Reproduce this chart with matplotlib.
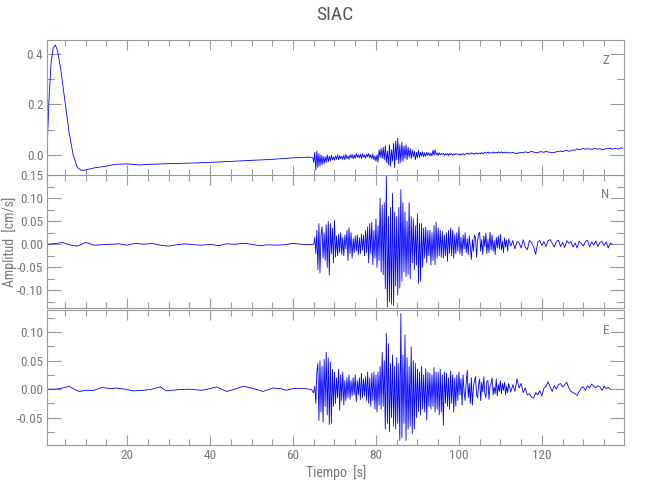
"""
SIAC three-component velocity record (Z, N, E).
"""
import numpy as np
import matplotlib
matplotlib.use("Agg")
import matplotlib.pyplot as plt
from matplotlib import font_manager
from matplotlib.ticker import MultipleLocator, FormatStrFormatter

# narrow face if one is installed, else condensed DejaVu, else plain DejaVu
_fonts = font_manager.fontManager.ttflist
_names = {f.name for f in _fonts}
_narrow = [n for n in ("Liberation Sans Narrow", "Arial Narrow", "Roboto Condensed",
                       "Open Sans Condensed") if n in _names]
if _narrow:
    plt.rcParams['font.family'] = [_narrow[0], 'DejaVu Sans']
else:
    plt.rcParams['font.family'] = ['DejaVu Sans']
    if any(f.name == "DejaVu Sans" and "condensed" in str(f.stretch) for f in _fonts):
        plt.rcParams['font.stretch'] = 'condensed'

GREY = "#777777"
AXC = "#999999"
TRACE = "#0000ff"

# ---- Z component (values in 1e-3 cm/s) --------------------------------
z_quiet_t = [0.8, 1.2, 1.7, 2.2, 2.7, 3.2, 4.0, 5.0, 6.0, 7.0, 8.0, 9.0, 10, 12,
             15, 17, 20, 23, 25, 28, 30, 35, 40, 45, 50, 55, 60, 62, 64, 64.8]
z_quiet = [60, 230, 370, 425, 435, 415, 340, 215, 90, 0, -50, -62, -60, -52,
           -45, -38, -36, -40, -38, -36, -35, -33, -30, -26, -22, -18, -12, -11, -9, -12]
z_strong = [  # 65.00 .. 111.75, 0.25 s
    -30, 10, -60, 15,  -50, 5, -45, 0,  -40, -5, -35, -8,  -30, 0, -28, -5,
    -25, -2, -20, -8,  -22, -5, -18, 0,  -20, -3, -15, -6,  -18, -2, -20, 2,
    -15, -5, -18, 0,  -12, 2, -16, -2,  -14, 5, -10, 0,  -12, 3, -15, 5,
    -10, 0, -14, 2,  -8, 5, -12, 0,  -15, 2, -20, -5,  -25, 0, -28, 20,
    -10, 25, -15, 30,  -20, 35, -30, 15,  -40, 40, -45, 20,  -25, 45, -50, 55,
    -20, 66, -35, 40,  -30, 50, -25, 35,  -15, 40, -20, 30,  -10, 25, -15, 20,
    -8, 15, -20, 10,  -12, 18, -10, 10,  -5, 12, -8, 8,  -6, 10, -2, 8,
    -4, 6, -5, 18,  -2, 20, 0, 8,  -3, 8, 0, 5,  2, 6, -2, 4,
    0, 5, -3, 6,  1, 4, -1, 3,  0, 5, 2, 4,
    0, 4, -2, 3,  5, -1, 2, 6,  3, 7, 2, 5,  8, 4, 6, 2,
    5, 8, 3, 6,  7, 4, 9, 5,  6, 10, 7, 8,  11, 6, 9, 7,
    8, 11, 6, 9,  10, 7, 12, 8,  9, 12, 7, 10,  8, 11, 9, 7]
z_coda = [  # 112.0 .. 139.5, 0.5 s
    9, 7, 10, 6, 5, 8, 10, 8, 12, 9, 10, 14, 11, 8, 9, 12,
    12, 10, 14, 11, 10, 8, 9, 12, 14, 15, 12, 16, 18, 14, 16, 20, 18, 24, 20, 22,
    26, 22, 24, 23, 22, 24, 25, 22, 24, 20, 22, 25, 24, 26, 22, 25, 24, 23, 28, 26]

# ---- N component ------------------------------------------------------
n_quiet_t = [0.8, 3, 4.5, 6, 8, 10, 12, 14, 16, 18, 20, 22, 24, 26, 28, 30, 32,
             34, 36, 38, 40, 42, 44, 46, 48, 50, 52, 54, 56, 58, 60, 62, 64, 64.8]
n_quiet = [0, 2, 4, -1, -4, 4, -2, -1, 0, 1, -2, 2, 0, 2, -2, -4, -1,
           1, -1, -2, 0, -3, 1, 0, 2, 0, -3, -1, -2, -1, 2, 0, -1, 0]
n_strong = [
    0, 15, -20, 30,  -55, 45, -62, 20,  38, -30, 25, -35,  42, -50, 50, -66,
    45, -20, 35, -40,  52, -28, 18, -25,  22, -18, 25, -22,  15, -25, 20, -10,
    30, -35, 36, -20,  25, -30, 12, -18,  18, -15, 20, -22,  14, -20, 22, -12,
    20, -25, 30, -18,  38, -40, 45, -20,  48, -44, 30, -30,  55, -50, 40, -35,
    100, -60, 85, -66,  90, -96, 147, -136,  60, -125, 80, -130,  110, -133, 70, -90,
    60, -110, 80, -95,  118, -80, 90, -60,  70, -70, 50, -65,  90, -75, 60, -40,
    55, -55, 40, -45,  66, -85, 45, -80,  45, -50, 35, -30,  37, -40, 30, -25,
    30, -45, 25, -35,  40, -44, 48, -30,  35, -25, 30, -28,  28, -30, 20, -25,
    25, -37, 30, -20,  35, -25, 30, -30,  22, -20, 25, -15,
    37, -20, 15, -25,  20, -10, 25, -18,  12, -22, 18, -8,  -33, 10, -15, 20,
    15, -28, 8, 22,  26, -15, 10, -22,  18, -5, 24, -20,  10, -18, 26, -12,
    20, -15, 8, -22,  15, -8, 18, -10,  22, -12, 6, -18,  14, -6, 10, -15]
n_coda = [  # 112.0 .. 137.0, 0.5 s
    12, -4, 8, -10, 6, 3, -8, 10, -6, -12, 8, 4, -6, -22, 5, 8, -3, 6, -5, 8,
    10, 2, -6, 6, 9, -5, 4, -7, 8, 2, 6, -6, 3, -8, 7, 2, -4, 6, 9, -6,
    5, -2, 7, -5, 4, 6, -3, 5, -8, 2, 0]

# ---- E component ------------------------------------------------------
e_quiet_t = [0.8, 3, 5, 6, 7.5, 8.5, 10, 12, 14, 16, 17.5, 19.5, 21.5, 24, 26, 28,
             29.5, 32, 35, 38, 40, 41.6, 44, 46, 48, 50, 52.8, 55.2, 57, 58.4, 60,
             63, 64.5, 64.9]
e_quiet = [0, 0, 3, 5, -1, -4, -2, -2, 3, 1, 2, 0, -3, -2, 0, 4,
           -3, -1, 0, -2, 1, 4, -4, 0, 5, 2, -4, 2, 1, -2, 1,
           1, -1, -6]
e_strong = [
    -5, 5, -25, 30,  45, -55, 50, -40,  40, -58, 52, -30,  65, -45, 55, -62,
    48, -60, 35, -30,  30, -25, 20, -15,  35, -37, 25, -20,  30, -28, 15, -20,
    20, -15, 25, -18,  15, -12, 20, -10,  25, -22, 15, -10,  20, -18, 28, -15,
    18, -12, 22, -20,  30, -25, 20, -30,  28, -20, 30, -35,  25, -40, 30, -28,
    40, -35, 65, -30,  50, -70, 98, -60,  80, -75, 45, -50,  60, -65, 40, -70,
    55, -60, 45, -90,  133, -85, 60, -60,  95, -90, 55, -70,  40, -65, 74, -78,
    50, -70, 45, -50,  35, -40, 30, -45,  40, -35, 25, -40,  36, -54, 30, -30,
    28, -35, 25, -30,  38, -40, 30, -35,  30, -45, 35, -40,  25, -63, 30, -25,
    28, -30, 20, -35,  32, -25, 25, -40,  20, -30, 25, -20,
    30, -10, 18, -28,  25, -5, -20, 12,  33, -15, 10, -25,  20, -28, 5, 15,
    22, -10, -15, 8,  18, -20, 12, -5,  22, -8, -15, 14,  15, -18, 6, 10,
    20, -10, 4, -8,  18, -12, 8, -4,  15, -8, 10, -2,  12, -10, 5, -6]
e_coda = [  # 112.0 .. 136.5, 0.5 s
    10, -5, 8, -4, 18, 2, 10, -6, 2, -10, -8, -14, -16, -6, -10, -3,
    -12, 2, 5, 13, 4, -4, 6, 0, 8, 10, 4, 8, 12, 2, -4, -6, -8, -11, -4, 2,
    4, -2, 6, 2, 9, 5, 2, 6, 4, -2, 5, 1, 3, 0]


def trace(quiet_t, quiet, strong, coda):
    t_strong = 65.0 + 0.25 * np.arange(len(strong))
    t_coda = 112.0 + 0.5 * np.arange(len(coda))
    t = np.concatenate([quiet_t, t_strong, t_coda])
    v = np.concatenate([quiet, strong, coda]) / 1000.0
    return t, v


panels = [
    ("Z", trace(z_quiet_t, z_quiet, z_strong, z_coda), (-0.08, 0.455), 0.2, 0.1, "%.1f"),
    ("N", trace(n_quiet_t, n_quiet, n_strong, n_coda), (-0.138, 0.15), 0.05, 0.025, "%.2f"),
    ("E", trace(e_quiet_t, e_quiet, e_strong, e_coda), (-0.098, 0.139), 0.05, 0.025, "%.2f"),
]
boxes = [(0.073, 0.650, 0.887, 0.270),
         (0.073, 0.384, 0.887, 0.266),
         (0.073, 0.110, 0.887, 0.270)]

fig = plt.figure(figsize=(6.5, 5), dpi=100)
for i, ((comp, (t, v), ylim, major, minor, fmt), box) in enumerate(zip(panels, boxes)):
    ax = fig.add_axes(box)
    ax.plot(t, v, color=TRACE, lw=0.6)
    ax.set_xlim(0.8, 139.8)
    ax.set_ylim(*ylim)
    ax.xaxis.set_major_locator(MultipleLocator(20))
    ax.xaxis.set_minor_locator(MultipleLocator(5))
    ax.yaxis.set_major_locator(MultipleLocator(major))
    ax.yaxis.set_minor_locator(MultipleLocator(minor))
    ax.yaxis.set_major_formatter(FormatStrFormatter(fmt))
    ax.tick_params(axis="both", which="both", direction="in", top=True, right=True,
                   color=AXC, labelcolor=GREY, labelsize=9.5, width=0.8, pad=3)
    ax.tick_params(axis="y", which="major", length=10)
    ax.tick_params(axis="y", which="minor", length=5)
    ax.tick_params(axis="x", which="major", length=7)
    ax.tick_params(axis="x", which="minor", length=4)
    for s in ax.spines.values():
        s.set_color(AXC)
        s.set_linewidth(0.8)
    if i < 2:
        ax.tick_params(axis="x", labelbottom=False)
    else:
        ax.set_xlabel("Tiempo  [s]", color=GREY, fontsize=10, labelpad=2)
    if i == 1:
        ax.set_ylabel("Amplitud  [cm/s]", color=GREY, fontsize=10)
        ax.yaxis.set_label_coords(-0.053, 0.5)
    ax.text(0.975, 0.85, comp, transform=ax.transAxes, color=GREY, fontsize=9.5,
            ha="right", va="center")

fig.text(0.515, 0.97, "SIAC", ha="center", va="center", color="#555555", fontsize=14)
fig.savefig("out.png", dpi=100)
